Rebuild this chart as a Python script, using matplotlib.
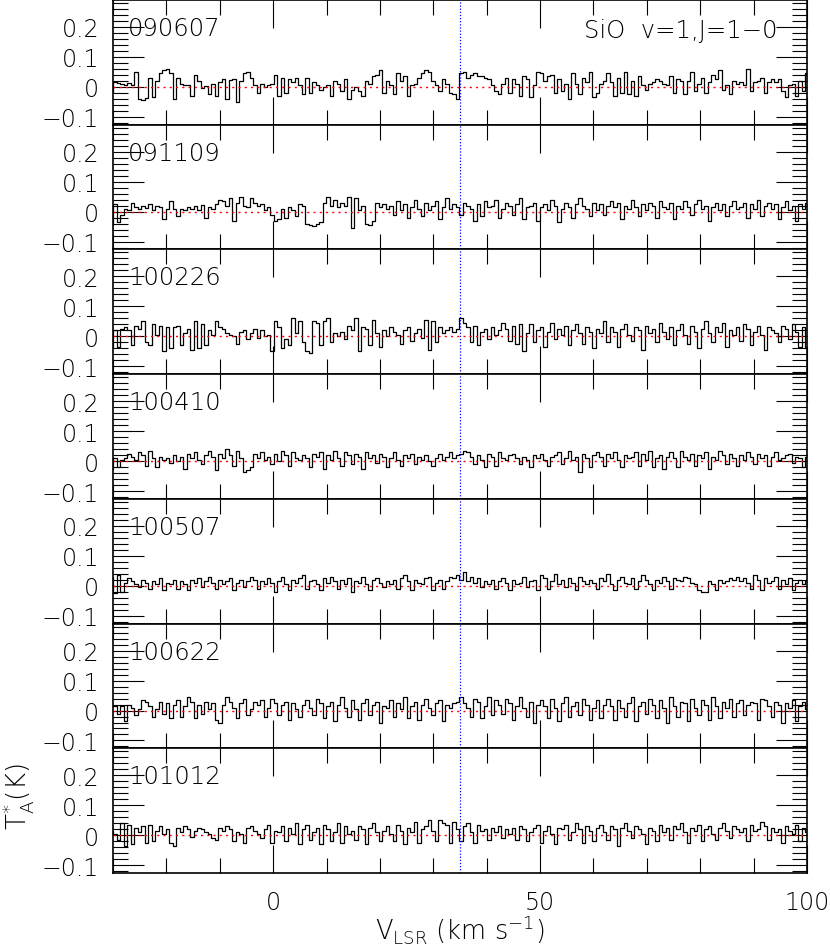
import numpy as np
import matplotlib
matplotlib.use("Agg")
import matplotlib.pyplot as plt
from matplotlib.ticker import MultipleLocator, FixedLocator, FuncFormatter

# -------------------------------------------------
# SiO v=1, J=1-0 spectra, one panel per epoch (values in mK)

dates = ['090607', '091109', '100226', '100410', '100507', '100622', '101012']

t_090607 = [
    -20, 15, 12, 10, 8, 12, 5, 50, -40, -45, -38, 30, -35, 20, 45, 55, 60, 48, -40, 30,
    10, 8, 5, -30, 40, 20, -5, 3, -25, 10, -30, 15, 25, -40, 22, 25, -50, 20, 45, 50,
    30, 5, -20, 10, 0, 5, 10, 40, -30, 30, -20, 25, 15, 30, 5, -25, 30, -20, 15, 5,
    -10, 0, 5, -30, 20, 10, -15, 25, -40, -10, 0, -15, -30, 20, 10, 35, 40, 55, -20, 20,
    5, -25, 45, 20, 35, -30, 5, 10, 30, 45, 55, 50, 20, 5, -15, 25, 10, -20, -25, -40,
    45, 50, 30, 40, 45, 35, 38, 30, 25, 5, -15, -25, 10, 30, -20, 25, 10, -30, 35, 25,
    -35, 5, 50, 45, 20, 35, 40, -20, 25, -15, 10, -40, 45, 10, -25, 30, 15, 50, -35, -20,
    10, 20, 45, 15, -30, 30, -20, 50, -25, 20, -30, 35, 5, -10, 10, 15, 25, 20, 10, 5,
    35, -20, 25, 20, -25, 20, 50, -15, 10, 30, -20, 15, 40, 25, 55, -10, 5, -25, 20, 10,
    15, 5, 60, -15, 15, 20, 30, -20, 15, 25, 15, 25, -15, -35, 5, 10, -30, 20, -15, 45]

t_091109 = [
    -45, 25, -35, -10, 10, 5, 30, 15, 10, 20, 12, 25, 5, 20, 15, -25, 10, 35, 8, -15,
    10, 5, 15, 8, 20, 5, 22, -20, 15, 10, 25, 40, 35, 20, 45, -30, 30, 50, 20, 15,
    45, 30, 20, 25, 5, 15, -10, -30, -25, 10, -20, 15, 5, -15, 25, 20, -40, -45, -48, -42,
    -35, 30, 50, 20, 40, 15, 30, 20, 50, -55, 45, 5, 20, -40, -45, -30, 30, 15, 25, 10,
    20, -10, 35, 5, 25, -20, 15, 40, 10, -15, 30, 5, 20, 35, -25, 15, 45, 10, 25, 15,
    -10, 30, 20, 10, -30, 25, -15, 35, 15, 20, 40, -20, 10, 30, 20, -10, 25, 45, -25, 15,
    20, 30, -30, 15, 25, 5, 40, 20, -35, 10, 30, 15, -20, 25, 45, 20, 10, -15, 30, 5,
    25, -10, 20, 35, 15, 30, -25, 20, 10, 40, 15, -15, 25, 5, 30, 20, -20, 35, 15, 10,
    30, -25, 20, 10, 35, 15, -10, 25, 40, 10, 20, -30, 15, 30, 5, 25, -15, 20, 35, 10,
    15, 30, -20, 25, 10, 40, -15, 20, 30, 10, 25, -25, 15, 35, 5, 20, -30, 25, 10, 30]

t_100226 = [
    -40, 20, -35, 25, 30, 20, -30, 35, 25, 50, -20, -30, 40, 5, 35, -50, 30, -40, 30, 35,
    -30, 10, 25, -45, 50, -40, 40, -30, 20, 5, 50, 30, 25, 10, 5, 0, -25, 15, 20, -10,
    10, 25, -5, 20, 0, 5, -50, 50, 30, -40, -10, -30, 60, 10, 50, -20, -50, -55, 50, 45,
    -30, 50, 60, -20, 10, 0, 15, -10, 35, 20, 60, -50, 30, 25, -30, 55, 10, -35, 20, 0,
    30, 15, 5, -25, 20, 30, -15, 10, 25, -5, 55, -45, 50, -20, 30, 10, 20, 30, 15, 25,
    60, 45, 30, -20, 35, -30, 15, 25, -10, 30, 5, 20, 45, 25, -15, 35, -25, 40, -50, 10,
    40, -20, 20, 30, -35, 15, 45, -10, 25, 5, 35, -30, 20, 40, 10, -25, 30, 15, -40, 25,
    10, 50, -20, 30, 15, -35, 25, 40, 5, -15, 30, 20, -45, 35, 10, 25, -20, 45, 15, -10,
    30, -30, 20, 40, 5, -25, 35, 15, -40, 25, 50, 10, -20, 30, 15, 45, -35, 20, 5, 30,
    -15, 40, 25, -30, 15, 35, 5, -45, 30, 20, 10, -20, 35, 25, -10, 40, 15, -35, 30, -40]

t_100410 = [
    -25, 10, -20, 5, 10, 25, 15, 5, 30, 20, -15, 35, 10, -20, 15, 5, 10, -5, 20, 0,
    15, -25, 25, 10, 30, 5, -10, 20, 35, 15, -30, 25, 10, 40, 20, -15, 35, 10, -35, -30,
    -20, 25, 10, 30, 5, 15, -10, 25, 0, 35, 20, -15, 30, 10, 5, 20, 10, -20, 25, 15,
    30, -25, 20, 5, 35, 10, -15, 30, 20, -10, 25, 15, -25, 30, 10, 20, -5, 25, 15, -20,
    10, 30, 5, -15, 20, 10, 25, -10, 15, 5, 20, 0, -15, 10, 25, 5, 15, 30, 10, 20,
    25, 35, 30, 15, -10, 20, 5, -20, 25, 15, -15, 30, 10, 5, 20, 25, 10, -10, 15, 5,
    -20, 20, 10, 25, 5, -15, 15, 20, 30, -10, 10, 35, 5, 15, -35, 25, 10, -20, 20, 30,
    15, -15, 25, 10, 30, 5, -20, 20, 10, 15, 30, -15, 25, 5, 35, -20, 10, 20, -25, 15,
    30, 10, -20, 35, 15, 5, 25, -15, 20, 10, 30, -25, 15, 5, 35, 20, -10, 25, 10, -15,
    20, 5, 30, 15, -10, 25, 10, 20, -15, 15, 30, 5, 10, 20, 25, -5, 15, 10, -20, 15]

t_100507 = [
    30, -25, 35, -20, 10, 25, 15, 5, -5, 20, 10, -10, 15, 5, 25, -15, 10, 5, 20, -10,
    15, 5, -15, 20, 10, 25, -5, 15, 30, 10, -10, 20, 5, 15, 25, -15, 10, 20, -5, 15,
    30, 20, -10, 15, 5, 25, 10, -20, 15, 30, 5, -15, 20, 10, 25, 35, -10, 15, 20, 5,
    -15, 25, 10, 30, 15, -10, 20, 5, 25, -20, 15, 10, 30, 5, -15, 20, 25, 10, -5, 15,
    5, 20, -10, 25, 35, 15, -15, 20, 10, 5, 25, 30, -15, 10, 20, -10, 15, 30, 25, 35,
    20, 45, 15, 30, 10, 25, -5, 15, 5, 20, -10, 15, 25, 10, -15, 20, 5, 10, 30, -5,
    15, 20, -15, 35, 25, -10, 15, 40, 5, 20, -5, 25, 10, -15, 30, 15, 5, 20, 10, -10,
    25, 15, 40, 5, -15, 20, 30, 10, 5, 25, -10, 15, 35, 20, 5, -15, 20, 10, 30, 15,
    -10, 25, 20, 15, 30, 25, 10, 5, -15, -20, -20, 15, 5, -15, 20, 10, 15, 25, 20, 30,
    15, 25, 10, -10, 35, 20, -15, 25, 10, 15, 30, -10, 20, 5, 25, -15, 10, 20, 5, 15]

t_100622 = [
    20, 15, -10, 15, -35, 20, 10, -15, 5, 35, 30, 15, -20, 5, 30, -10, 25, -25, 20, 35,
    -20, 15, 45, 30, -25, 20, -10, 30, 5, 25, -30, -40, 20, 45, 30, 10, -25, 25, 40, -15,
    5, 30, 20, 35, -20, 10, 40, 25, -15, 20, 30, -30, 25, 5, -20, 20, 35, 10, -15, 40,
    25, -25, 15, 30, -35, 20, 45, 10, -20, 35, 5, -30, 25, 40, -15, 20, 30, -40, 15, 10,
    35, -20, 25, 5, 45, -25, 15, 30, -30, 20, 40, 10, -15, 25, 35, -35, 20, 10, 25, 30,
    45, 25, 10, -20, 40, 30, -25, 15, 45, -15, 35, 20, -10, 40, 25, -30, 15, 45, 10, -20,
    30, -40, 20, 35, 15, -25, 40, 10, -35, 25, 45, -20, 15, 30, -15, 40, 20, -30, 10, 35,
    -25, 20, 40, 15, -30, 35, 10, -20, 25, 45, -35, 15, 30, -10, 40, 20, -25, 35, 10, -40,
    45, 15, -20, 30, 25, -35, 40, 10, -15, 35, 20, -30, 45, 15, -25, 30, 10, 40, -20, 25,
    35, -15, 20, 30, 25, -30, 40, 35, 15, -20, 30, 20, -40, 25, 10, 35, -35, 15, 30, 5]

t_101012 = [
    15, 5, -15, 40, -35, 35, -30, 25, 10, 30, -25, 35, -20, 15, 30, 5, 20, -25, -35, 25,
    10, 30, 20, -5, 15, 25, 20, 10, 5, -10, -15, 25, 15, 30, 20, -20, 10, 5, -25, 25,
    30, 15, 5, -10, 20, 35, -25, 15, 10, 30, -20, 25, 5, 40, -30, 20, 35, -15, 10, 25,
    -30, 35, 20, -20, 10, 40, -25, 30, 5, 15, -15, 30, 20, -30, 25, 40, 10, -20, 15, 30,
    5, -20, 35, 15, -30, 25, 10, 45, -25, 20, 30, 50, 15, -20, 50, 40, 35, -25, 45, 20,
    -20, 30, 40, 10, -25, 35, 15, 20, -15, 25, 10, 30, -10, 20, 5, 25, -15, 30, 20, -20,
    10, 25, 35, -25, 15, 30, 5, -30, 25, 20, 35, -15, 10, 40, 20, -25, 30, 15, -20, 25,
    35, 10, -15, 30, 20, -35, 25, 40, 15, -10, 30, 20, 5, -30, 25, 15, -20, 35, 10, 25,
    -15, 30, 20, 40, 10, -25, 25, 15, 35, -20, 20, 30, 5, -15, 25, 40, 15, -10, 30, 20,
    10, 25, -20, 35, 15, 20, 45, 30, -15, 25, 10, 20, -25, 30, 15, 5, 35, -20, 25, 10]

spectra = [t_090607, t_091109, t_100226, t_100410, t_100507, t_100622, t_101012]

v_first = -30.3   # first channel (km/s)
dv = 0.655        # channel width (km/s)
v_line = 35.0     # marked velocity
x_lim = (-30, 100)
y_lim = (-0.126, 0.29)

# -------------------------------------------------
plt.rcParams['font.weight'] = 'light'
plt.rcParams['mathtext.default'] = 'regular'

W, H = 830, 945
fig = plt.figure(figsize=(W / 100, H / 100), dpi=100)

left, right = 113, 807
top, bottom = 1, 874
ph = (bottom - top) / len(dates)

ylab = FuncFormatter(lambda v, p: ('%g' % round(v, 2)).replace('-', '\u2212'))

axes = []
for k, (d, t) in enumerate(zip(dates, spectra)):
    y0 = top + k * ph
    ax = fig.add_axes([left / W, 1 - (y0 + ph) / H, (right - left) / W, ph / H])
    axes.append(ax)
    t = np.array(t) / 1000.0
    v = v_first + dv * np.arange(len(t))
    ax.step(v, t, where='mid', color='black', lw=0.9)
    ax.axhline(0, color='red', lw=1.0, ls=(0, (1.5, 3)))
    ax.axvline(v_line, color='blue', lw=0.9, ls=(0, (1, 1.5)))
    ax.set_xlim(*x_lim)
    ax.set_ylim(*y_lim)

    ax.xaxis.set_major_locator(FixedLocator([0, 50, 100]))
    ax.xaxis.set_minor_locator(MultipleLocator(10))
    ax.yaxis.set_major_locator(FixedLocator([-0.1, 0, 0.1, 0.2]))
    ax.yaxis.set_minor_locator(MultipleLocator(0.02))
    ax.yaxis.set_major_formatter(ylab)
    ax.tick_params(which='both', direction='in', top=True, right=True, width=0.8,
                   labelsize=17, colors='black')
    ax.tick_params(axis='x', which='major', length=20, pad=12)
    ax.tick_params(axis='x', which='minor', length=11)
    ax.tick_params(axis='y', which='major', length=22, pad=10)
    ax.tick_params(axis='y', which='minor', length=11)
    for s in ax.spines.values():
        s.set_linewidth(1.2)
    if k < len(dates) - 1:
        ax.tick_params(axis='x', labelbottom=False)

    ax.text(0.022, 0.775, d, transform=ax.transAxes, fontsize=17.5,
            ha='left', va='center')

axes[0].text(0.958, 0.76, 'SiO  v=1,J=1\u22120', transform=axes[0].transAxes,
             fontsize=17.5, ha='right', va='center')

fig.text(460 / W, 1 - 930 / H, r'V$_{LSR}$ (km s$^{-1}$)', fontsize=18.5,
         ha='center', va='center')
fig.text(18 / W, 1 - 797 / H, r'T$_{A}^{*}$(K)', fontsize=19, rotation=90,
         ha='center', va='center')

fig.savefig('out.png', dpi=100)
